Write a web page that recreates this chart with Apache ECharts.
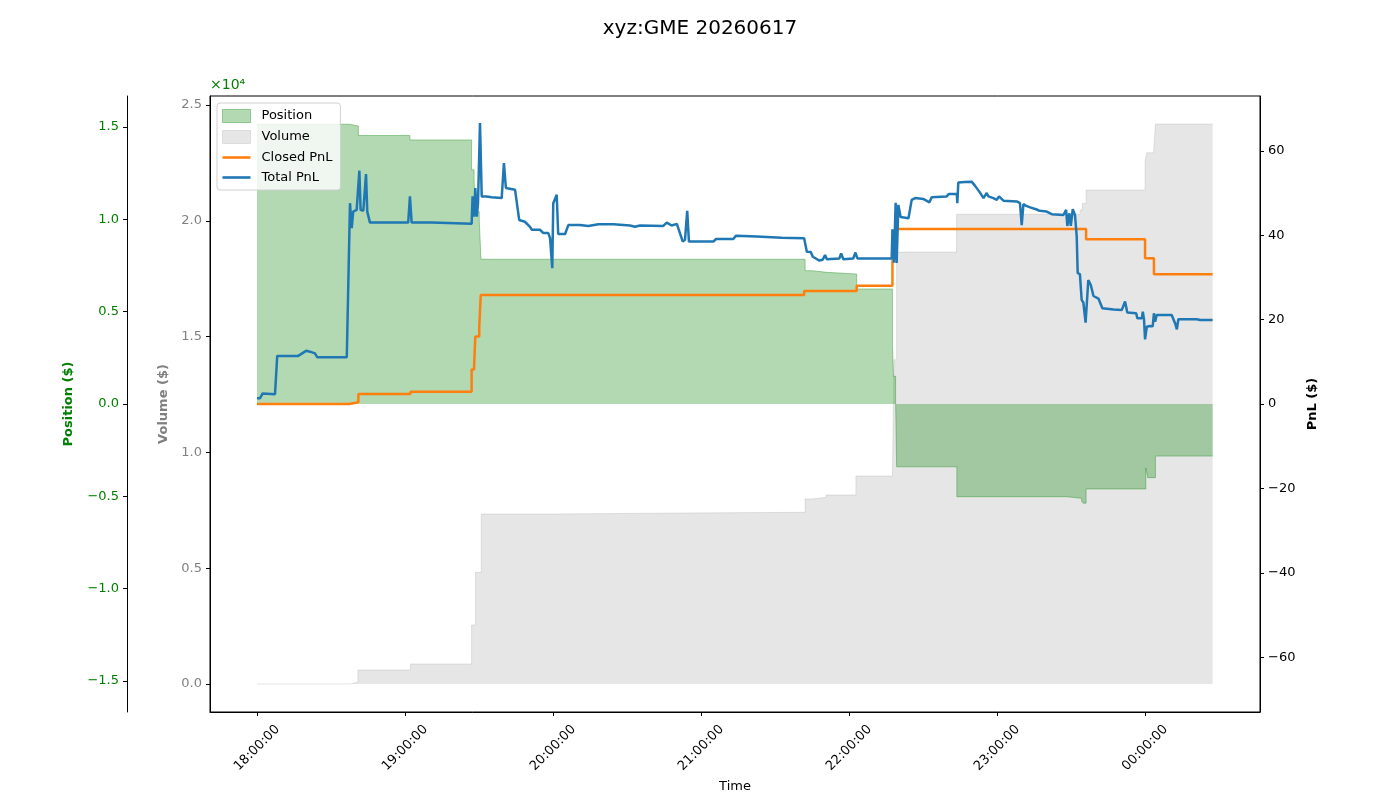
<!DOCTYPE html>
<html>
<head>
<meta charset="utf-8">
<title>xyz:GME 20260617</title>
<script src="https://cdn.jsdelivr.net/npm/echarts@6/dist/echarts.min.js"></script>
<style>
    html, body { margin: 0; padding: 0; background: #fff; }
    #chart { width: 1400px; height: 800px; }
</style>
</head>
<body>
<div id="chart"></div>
<script>
// 时间都按 18:00:00 之后的分钟数来记
var posT   = [0, 37.7, 41.1, 62.0, 87.0, 88.0, 88.5, 90.1, 90.8, 222.2, 225.1, 231.0, 243.1, 257.6, 258.0, 258.9, 259.3, 283.7, 328.2, 334.3, 334.9, 336.1, 360.3, 361.1, 364.2, 387.4];
var posVal = [15150, 15050, 14540, 14300, 12680, 12130, 10420, 9970, 7840, 7220, 7130, 7040, 6230, 3230, 1500, 0, -3400, -5020, -5110, -5260, -5370, -4600, -3460, -3990, -2820, -2820];

var volT   = [0, 37.9, 40.9, 62.2, 87.0, 88.6, 90.9, 119.6, 174.7, 222.2, 225.1, 230.7, 242.8, 257.6, 258.2, 259.3, 283.6, 333.6, 334.6, 336.1, 360.0, 360.7, 363.5, 364.2, 387.4];
var volVal = [0, 80, 605, 864, 2547, 4823, 7340, 7384, 7414, 7988, 8062, 8161, 8981, 8981, 14000, 18650, 20282, 20467, 20750, 21330, 22553, 22942, 23058, 24180, 24180];

var closedT   = [0, 37.3, 41.1, 62.2, 87.0, 88.0, 88.5, 90.1, 90.7, 221.8, 243.1, 257.6, 258.1, 259.3, 336.1, 360.0, 363.6, 387.4];
var closedPnl = [0, 0.4, 2.37, 2.9, 8.2, 8.9, 16.0, 18.3, 25.85, 26.8, 28.05, 33.5, 38.1, 41.5, 39.05, 34.55, 30.75, 30.75];

var totalT = [0, 1.2, 2.3, 7.3, 8.2, 16.7, 17.4, 19.9, 21.5, 23.5, 24.4, 36.4, 37.7, 38.4, 39.0, 40.4, 41.5, 42.0, 43.1, 44.2, 44.7, 45.8,
    61.3, 62.0, 62.7, 70.8, 71.5, 87.0, 87.4, 88.0, 88.5, 89.1, 89.6, 90.4, 91.1, 93.1, 95.1, 99.2, 100.1, 100.9, 104.6, 106.3, 108.6,
    110.7, 111.4, 114.7, 116.1, 118.1, 118.8, 119.7, 120.1, 121.5, 122.1, 124.9, 126.2, 130.9, 134.3, 138.4, 144.5, 151.2, 153.2, 155.3,
    164.7, 166.1, 168.1, 170.2, 172.6, 173.5, 174.4, 175.1, 185.0, 186.1, 193.1, 194.2, 202.6, 203.2, 212.7, 221.8, 222.9, 224.5, 225.3,
    228.0, 229.3, 230.3, 231.0, 236.1, 236.8, 237.7, 241.7, 242.6, 243.4, 257.3, 257.6, 258.2, 258.9, 259.3, 260.0, 260.9, 264.1, 265.4,
    266.8, 270.1, 272.6, 273.5, 279.6, 280.5, 283.7, 283.9, 284.3, 287.0, 289.7, 291.1, 293.1, 294.5, 295.8, 296.5, 298.5, 299.9, 300.8,
    302.6, 308.0, 309.3, 310.0, 310.7, 311.6, 313.4, 316.1, 317.2, 320.1, 322.2, 326.9, 328.0, 328.5, 329.3, 329.9, 330.7, 331.6, 332.3,
    332.7, 333.6, 334.3, 335.0, 335.9, 337.0, 338.0, 339.1, 341.1, 342.7, 347.2, 350.6, 351.9, 352.8, 356.4, 356.9, 358.7, 359.1, 359.6,
    360.0, 360.7, 361.1, 362.0, 363.1, 363.6, 364.1, 364.7, 370.8, 372.2, 372.9, 373.5, 381.0, 382.3, 387.4];
var totalPnl = [1.35, 1.35, 2.5, 2.3, 11.4, 11.4, 11.0, 12.6, 12.4, 12.0, 11.1, 11.1, 47.6, 41.7, 45.6, 46.0, 55.3, 46.0, 45.8, 54.5, 45.6, 43.0,
    43.0, 49.2, 43.0, 43.0, 42.7, 42.7, 49.2, 44.4, 51.2, 44.4, 47.6, 66.6, 49.2, 49.2, 49.0, 48.8, 57.1, 51.2, 50.8, 43.6, 43.2,
    42.0, 41.3, 41.3, 40.5, 40.5, 39.3, 32.2, 47.6, 49.6, 40.3, 40.3, 42.4, 42.4, 42.2, 42.6, 42.6, 42.3, 42.0, 42.3,
    42.2, 43.0, 42.3, 42.7, 38.5, 38.9, 45.8, 38.5, 38.5, 39.1, 39.1, 39.9, 39.7, 39.4, 39.4, 39.3, 36.1, 36.0, 34.9,
    34.0, 34.2, 35.3, 34.3, 34.5, 35.7, 34.3, 34.5, 35.9, 34.5, 34.5, 41.4, 33.5, 47.7, 33.4, 47.2, 44.3, 44.0, 48.4,
    48.8, 48.6, 47.8, 49.0, 49.2, 49.8, 49.8, 47.6, 52.5, 52.6, 52.7, 51.7, 50.1, 48.8, 50.0, 49.2, 48.8, 48.4, 49.2,
    48.2, 48.0, 47.6, 42.4, 47.4, 47.0, 46.6, 46.1, 45.8, 45.6, 45.0, 44.8, 46.0, 42.2, 45.2, 42.2, 46.2, 44.8, 39.7,
    31.0, 30.8, 24.7, 24.0, 19.3, 29.4, 28.2, 25.6, 25.0, 22.7, 22.4, 22.3, 24.3, 21.7, 21.5, 20.3, 20.3, 21.9, 19.9,
    15.3, 18.3, 18.0, 18.5, 18.4, 21.5, 19.5, 21.1, 21.1, 19.1, 17.7, 20.1, 20.1, 19.9, 19.9];

// 刻度
var timeTicks = [0, 60, 120, 180, 240, 300, 360];
var posTicks = [-15000, -10000, -5000, 0, 5000, 10000, 15000];
var volTicks = [0, 5000, 10000, 15000, 20000, 25000];
var pnlTicks = [-60, -40, -20, 0, 20, 40, 60];

function pairs(t, v){
    var arr = [];
    for(var i = 0; i < t.length; i++){
        arr.push([t[i], v[i]]);
    }
    return arr;
}

function fmtTime(m){
    var total = Math.round(m * 60);
    var h = (18 + Math.floor(total / 3600)) % 24;
    var mm = Math.floor(total % 3600 / 60);
    var ss = total % 60;
    function p(n){ return (n < 10 ? '0' : '') + n; }
    return p(h) + ':' + p(mm) + ':' + p(ss);
}

function minus(s){
    return String(s).replace('-', '\u2212');
}

// 图例里的线段图标
var lineIcon = 'path://M0,0 L28,0 L28,2.6 L0,2.6 Z';

var font = 'DejaVu Sans';
var myChart = echarts.init(document.getElementById('chart'));
myChart.setOption({
    animation: false,
    title: {
        text: 'xyz:GME 20260617',
        left: 'center',
        top: 14,
        textStyle: { fontFamily: font, fontSize: 20, fontWeight: 'normal', color: '#000' }
    },
    grid: {
        left: 210, right: 140, top: 96, bottom: 88,
        show: true, borderColor: '#000', borderWidth: 1, backgroundColor: 'transparent'
    },
    legend: {
        orient: 'vertical',
        left: 217,
        top: 103,
        padding: [6, 8, 6, 5],
        itemGap: 7,
        itemWidth: 28,
        itemHeight: 13,
        backgroundColor: 'rgba(255,255,255,0.8)',
        borderColor: '#d0d0d0',
        borderWidth: 1,
        borderRadius: 3,
        textStyle: { fontFamily: font, fontSize: 13, color: '#000', padding: [0, 0, 0, 6] },
        data: [
            { name: 'Position', icon: 'rect', itemStyle: { color: 'rgba(0,128,0,0.3)', borderColor: 'rgba(0,128,0,0.35)', borderWidth: 1 } },
            { name: 'Volume', icon: 'rect', itemStyle: { color: 'rgba(128,128,128,0.2)', borderColor: 'rgba(128,128,128,0.2)', borderWidth: 1 } },
            { name: 'Closed PnL', icon: lineIcon, itemStyle: { color: '#ff7f0e', borderWidth: 0 } },
            { name: 'Total PnL', icon: lineIcon, itemStyle: { color: '#1f77b4', borderWidth: 0 } }
        ]
    },
    xAxis: {
        type: 'value',
        min: -19.05,
        max: 406.6,
        name: 'Time',
        nameLocation: 'middle',
        nameGap: 68,
        nameTextStyle: { fontFamily: font, fontSize: 13, color: '#000' },
        splitLine: { show: false },
        axisLine: { onZero: false, lineStyle: { color: '#000' } },
        axisTick: { customValues: timeTicks, length: 4, lineStyle: { color: '#000' } },
        axisLabel: {
            customValues: timeTicks,
            rotate: 45,
            align: 'center',
            verticalAlign: 'middle',
            margin: 36,
            fontFamily: font,
            fontSize: 13,
            color: '#000',
            formatter: fmtTime
        }
    },
    yAxis: [
        {
            // 持仓
            type: 'value',
            position: 'left',
            offset: 83,
            min: -16680,
            max: 16680,
            name: 'Position ($)',
            nameLocation: 'middle',
            nameRotate: 90,
            nameGap: 52,
            nameTextStyle: { fontFamily: font, fontSize: 13, fontWeight: 'bold', color: 'green' },
            splitLine: { show: false },
            axisLine: { show: true, onZero: false, lineStyle: { color: '#000' } },
            axisTick: { show: true, customValues: posTicks, length: 4, lineStyle: { color: '#000' } },
            axisLabel: {
                customValues: posTicks,
                fontFamily: font, fontSize: 13, color: 'green',
                formatter: function(v){ return minus((v / 10000).toFixed(1)); }
            }
        },
        {
            // 成交量
            type: 'value',
            position: 'left',
            offset: 0,
            min: -1210,
            max: 25390,
            name: 'Volume ($)',
            nameLocation: 'middle',
            nameRotate: 90,
            nameGap: 40,
            nameTextStyle: { fontFamily: font, fontSize: 13, fontWeight: 'bold', color: 'gray' },
            splitLine: { show: false },
            axisLine: { show: true, onZero: false, lineStyle: { color: '#000' } },
            axisTick: { show: true, customValues: volTicks, length: 4, lineStyle: { color: '#000' } },
            axisLabel: {
                customValues: volTicks,
                fontFamily: font, fontSize: 13, color: 'gray',
                formatter: function(v){ return (v / 10000).toFixed(1); }
            }
        },
        {
            // 盈亏
            type: 'value',
            position: 'right',
            min: -73,
            max: 73,
            name: 'PnL ($)',
            nameLocation: 'middle',
            nameRotate: 90,
            nameGap: 46,
            nameTextStyle: { fontFamily: font, fontSize: 13, fontWeight: 'bold', color: '#000' },
            splitLine: { show: false },
            axisLine: { show: true, onZero: false, lineStyle: { color: '#000' } },
            axisTick: { show: true, customValues: pnlTicks, length: 4, lineStyle: { color: '#000' } },
            axisLabel: {
                customValues: pnlTicks,
                fontFamily: font, fontSize: 13, color: '#000',
                formatter: function(v){ return minus(v); }
            }
        }
    ],
    graphic: [
        {
            type: 'text',
            left: 210,
            top: 78,
            style: { text: '\u00d710\u2074', fill: 'green', font: '14px "DejaVu Sans"' }
        }
    ],
    series: [
        {
            name: 'Volume',
            type: 'line',
            yAxisIndex: 1,
            step: 'end',
            symbol: 'none',
            data: pairs(volT, volVal),
            itemStyle: { color: 'rgba(128,128,128,0.2)' },
            lineStyle: { color: 'rgba(128,128,128,0.2)', width: 1 },
            areaStyle: { color: 'rgba(128,128,128,0.2)', opacity: 1 }
        },
        {
            name: 'Position',
            type: 'line',
            yAxisIndex: 0,
            step: 'end',
            symbol: 'none',
            data: pairs(posT, posVal),
            itemStyle: { color: 'rgba(0,128,0,0.3)' },
            lineStyle: { color: 'rgba(0,128,0,0.35)', width: 1 },
            areaStyle: { color: 'rgba(0,128,0,0.3)', opacity: 1 }
        },
        {
            name: 'Closed PnL',
            type: 'line',
            yAxisIndex: 2,
            step: 'end',
            symbol: 'none',
            data: pairs(closedT, closedPnl),
            itemStyle: { color: '#ff7f0e' },
            lineStyle: { color: '#ff7f0e', width: 2.5 }
        },
        {
            name: 'Total PnL',
            type: 'line',
            yAxisIndex: 2,
            symbol: 'none',
            data: pairs(totalT, totalPnl),
            itemStyle: { color: '#1f77b4' },
            lineStyle: { color: '#1f77b4', width: 2.5 }
        }
    ]
});
</script>
</body>
</html>
